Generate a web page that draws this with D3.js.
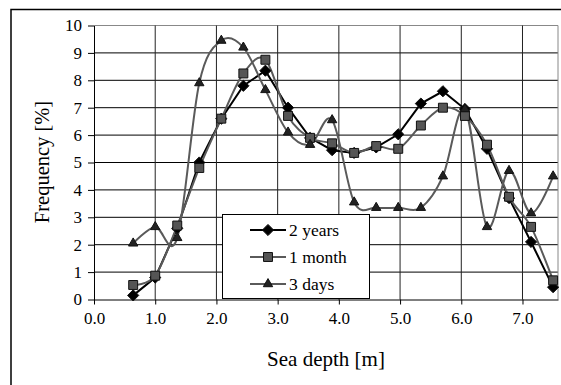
<!DOCTYPE html>
<html>
<head>
<meta charset="utf-8">
<script src="https://cdn.jsdelivr.net/npm/d3@7"></script>
<style>
  body { margin: 0; background: #fff; }
  svg { display: block; }
</style>
</head>
<body>
<div class="chart"></div>
<script>
const depth = [0.64, 1.0, 1.36, 1.72, 2.08, 2.44, 2.8, 3.17, 3.53, 3.89,
  4.25, 4.61, 4.97, 5.34, 5.7, 6.06, 6.42, 6.78, 7.14, 7.5];
const twoYears = [0.15, 0.8, 2.6, 5.0, 6.6, 7.8, 8.35, 7.0, 5.9, 5.45,
  5.35, 5.55, 6.03, 7.15, 7.6, 6.95, 5.5, 3.7, 2.1, 0.45];
const oneMonth = [0.53, 0.87, 2.7, 4.8, 6.6, 8.25, 8.75, 6.7, 5.9, 5.7,
  5.35, 5.6, 5.5, 6.35, 7.0, 6.7, 5.65, 3.75, 2.65, 0.7];
const threeDays = [2.05, 2.65, 2.25, 7.9, 9.45, 9.2, 7.65, 6.1, 5.65, 6.55,
  3.55, 3.35, 3.35, 3.35, 4.5, 6.95, 2.65, 4.7, 3.15, 4.5];
const seriesNames = ["2 years", "1 month", "3 days"];
const xTicks = [0, 1, 2, 3, 4, 5, 6, 7];
const yTicks = [0, 1, 2, 3, 4, 5, 6, 7, 8, 9, 10];

const width = 561;
const height = 385;
const serif = "Liberation Serif, DejaVu Serif, serif";

const svg = d3
  .select(".chart")
  .append("svg")
  .attr("width", width)
  .attr("height", height)
  .style("font-family", serif);

// outer chart frame (cut off at right and bottom)
svg
  .append("rect")
  .attr("x", 11)
  .attr("y", 9.5)
  .attr("width", 700)
  .attr("height", 500)
  .attr("fill", "#fff")
  .attr("stroke", "#000")
  .attr("stroke-width", 1.5);

const x = d3.scaleLinear().domain([0, 7.58]).range([94, 558]);
const y = d3.scaleLinear().domain([0, 10]).range([299.5, 25.5]);

// grid
svg
  .append("g")
  .selectAll("line")
  .data(yTicks.slice(1))
  .enter()
  .append("line")
  .attr("x1", x(0))
  .attr("x2", x(7.58))
  .attr("y1", d => y(d))
  .attr("y2", d => y(d))
  .attr("stroke", d => (d === 10 ? "#888" : "#000"))
  .attr("stroke-width", 1);

svg
  .append("g")
  .selectAll("line")
  .data(xTicks.slice(1))
  .enter()
  .append("line")
  .attr("x1", d => x(d))
  .attr("x2", d => x(d))
  .attr("y1", y(0))
  .attr("y2", y(10))
  .attr("stroke", "#222")
  .attr("stroke-width", 1);

svg
  .append("line")
  .attr("x1", x(7.58))
  .attr("x2", x(7.58))
  .attr("y1", y(0))
  .attr("y2", y(10))
  .attr("stroke", "#888");

// axes
const xAxis = d3
  .axisBottom(x)
  .tickValues(xTicks)
  .tickFormat(d3.format(".1f"))
  .tickSize(5)
  .tickPadding(7)
  .tickSizeOuter(0);
const gx = svg
  .append("g")
  .attr("transform", `translate(0, ${y(0)})`)
  .call(xAxis);
gx.select(".domain").attr("stroke", "#000");
gx.selectAll("text")
  .style("font-family", serif)
  .style("font-size", "17px")
  .attr("fill", "#000");

const yAxis = d3
  .axisLeft(y)
  .tickValues(yTicks)
  .tickFormat(d3.format("d"))
  .tickSize(6)
  .tickPadding(6)
  .tickSizeOuter(0);
const gy = svg
  .append("g")
  .attr("transform", `translate(${x(0)}, 0)`)
  .call(yAxis);
gy.selectAll("text")
  .style("font-family", serif)
  .style("font-size", "17px")
  .attr("fill", "#000");

svg
  .append("text")
  .attr("x", 326)
  .attr("y", 366)
  .attr("text-anchor", "middle")
  .style("font-family", serif)
  .style("font-size", "21px")
  .text("Sea depth [m]");

svg
  .append("text")
  .attr("transform", "rotate(-90)")
  .attr("x", -162)
  .attr("y", 49)
  .attr("text-anchor", "middle")
  .style("font-family", serif)
  .style("font-size", "20.5px")
  .text("Frequency [%]");

// series
const styles = [
  { values: twoYears, line: "#000", fill: "#000", curve: d3.curveLinear, marker: d3.symbolDiamond2, size: 80 },
  { values: oneMonth, line: "#5a5a5a", fill: "#555", curve: d3.curveCardinal.tension(0), marker: d3.symbolSquare, size: 80 },
  { values: threeDays, line: "#5a5a5a", fill: "#222", curve: d3.curveCardinal.tension(0), marker: d3.symbolTriangle, size: 38 }
];

styles.forEach(s => {
  const line = d3
    .line()
    .x((d, i) => x(depth[i]))
    .y(d => y(d))
    .curve(s.curve);
  svg
    .append("path")
    .datum(s.values)
    .attr("d", line)
    .attr("fill", "none")
    .attr("stroke", s.line)
    .attr("stroke-width", 2);
});

styles.forEach(s => {
  svg
    .append("g")
    .selectAll("path")
    .data(s.values)
    .enter()
    .append("path")
    .attr("d", d3.symbol().type(s.marker).size(s.size))
    .attr("transform", (d, i) => `translate(${x(depth[i])}, ${y(d)})`)
    .attr("fill", s.fill)
    .attr("stroke", "#111")
    .attr("stroke-width", 1);
});

// legend
const legend = svg.append("g");
legend
  .append("rect")
  .attr("x", 222.5)
  .attr("y", 214.5)
  .attr("width", 147)
  .attr("height", 84)
  .attr("fill", "#fff")
  .attr("stroke", "#000");

const legendY = d3.scalePoint().domain(seriesNames).range([230, 284]);
seriesNames.forEach((name, i) => {
  const s = styles[i];
  legend
    .append("line")
    .attr("x1", 250)
    .attr("x2", 286)
    .attr("y1", legendY(name))
    .attr("y2", legendY(name))
    .attr("stroke", s.line)
    .attr("stroke-width", 2);
  legend
    .append("path")
    .attr("d", d3.symbol().type(s.marker).size(s.size))
    .attr("transform", `translate(268, ${legendY(name)})`)
    .attr("fill", s.fill)
    .attr("stroke", "#111");
  legend
    .append("text")
    .attr("x", 289)
    .attr("y", legendY(name) + 6)
    .style("font-family", serif)
    .style("font-size", "17.5px")
    .text(name);
});
</script>
</body>
</html>
